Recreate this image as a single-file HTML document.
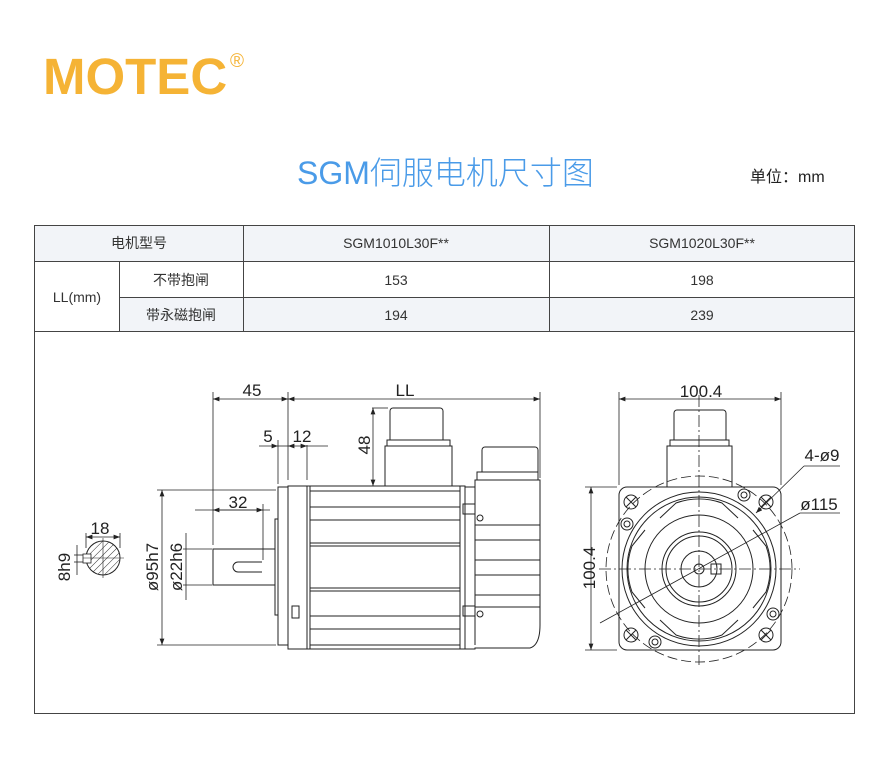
<!DOCTYPE html>
<html><head><meta charset="utf-8"><style>
html,body{margin:0;padding:0;background:#fff;width:890px;height:773px;overflow:hidden;position:relative;font-family:"Liberation Sans","Noto Sans CJK SC",sans-serif}
.abs{position:absolute;white-space:nowrap}
</style></head><body>
<div class="abs" style="left:43px;top:47px;font-size:51px;font-weight:bold;color:#f5b335;letter-spacing:0px">MOTEC</div>
<div class="abs" style="left:230px;top:51px;font-size:19px;color:#f5b335">®</div>
<div class="abs" style="left:297px;top:148px;font-size:32px;color:#4a9be8;font-weight:300">SGM伺服电机尺寸图</div>
<div class="abs" style="left:750px;top:163px;font-size:16px;color:#222">单位：mm</div>

<svg class="abs" style="left:0;top:0" width="890" height="773" viewBox="0 0 890 773" font-family="Liberation Sans, Noto Sans CJK SC, sans-serif">
<defs><marker id="a" markerWidth="8" markerHeight="6" refX="8" refY="3" orient="auto-start-reverse"><path d="M0,0 L8,3 L0,6z" fill="#222"/></marker>
<pattern id="h" width="5" height="5" patternUnits="userSpaceOnUse" patternTransform="rotate(45)"><line x1="0" y1="0" x2="0" y2="5" stroke="#333" stroke-width="1"/></pattern></defs>
<rect x="34" y="225" width="821" height="36" fill="#f2f4f8"/>
<rect x="119" y="297" width="736" height="34" fill="#f2f4f8"/>
<g stroke="#444" stroke-width="1" fill="none">
<rect x="34.5" y="225.5" width="820" height="488"/>
<line x1="34" y1="261.5" x2="855" y2="261.5"/>
<line x1="119" y1="297.5" x2="855" y2="297.5"/>
<line x1="34" y1="331.5" x2="855" y2="331.5"/>
<line x1="119.5" y1="261" x2="119.5" y2="331"/>
<line x1="243.5" y1="225" x2="243.5" y2="331"/>
<line x1="549.5" y1="225" x2="549.5" y2="331"/>
</g>
<g font-size="14" fill="#333" text-anchor="middle">
<text x="139" y="248">电机型号</text>
<text x="396" y="248">SGM1010L30F**</text>
<text x="702" y="248">SGM1020L30F**</text>
<text x="77" y="302">LL(mm)</text>
<text x="181" y="285">不带抱闸</text>
<text x="181" y="320">带永磁抱闸</text>
<text x="396" y="285">153</text><text x="702" y="285">198</text>
<text x="396" y="320">194</text><text x="702" y="320">239</text>
</g>

<g stroke="#222" stroke-width="1" fill="none">
<rect x="288" y="486" width="177" height="163"/>
<line x1="307" y1="486" x2="307" y2="649"/><line x1="310" y1="486" x2="310" y2="649"/>
<line x1="460" y1="486" x2="460" y2="649"/>
<line x1="310" y1="491" x2="460" y2="491"/><line x1="310" y1="507" x2="460" y2="507"/>
<line x1="310" y1="520" x2="460" y2="520"/><line x1="310" y1="543" x2="460" y2="543"/>
<line x1="310" y1="546" x2="460" y2="546"/>
<line x1="310" y1="588" x2="460" y2="588"/><line x1="310" y1="591" x2="460" y2="591"/>
<line x1="310" y1="616" x2="460" y2="616"/><line x1="310" y1="629" x2="460" y2="629"/>
<line x1="310" y1="645" x2="460" y2="645"/>
<rect x="278" y="487" width="10" height="158"/>
<rect x="275" y="519" width="3" height="96"/>
<path d="M275,549 H213 V585 H275"/>
<path d="M262,562 H238 a5,5 0 0 0 0,10 H262"/>
<rect x="292" y="606" width="7" height="12"/>
<path d="M385,486 V446 H452 V486"/>
<path d="M387,446 V440 H450 V446"/>
<path d="M390,440 V411 a3,3 0 0 1 3,-3 H440 a3,3 0 0 1 3,3 V440"/>
<path d="M465,487 H475 V480 H540 V625 Q540,645 530,648 H475 V649 H465"/>
<path d="M477,480 V472 H538 V480"/>
<path d="M482,472 V450 a3,3 0 0 1 3,-3 H535 a3,3 0 0 1 3,3 V472"/>
<line x1="475" y1="487" x2="475" y2="645"/>
<line x1="475" y1="525" x2="540" y2="525"/><line x1="475" y1="540" x2="540" y2="540"/>
<line x1="475" y1="560" x2="540" y2="560"/><line x1="475" y1="575" x2="540" y2="575"/>
<line x1="475" y1="595" x2="540" y2="595"/><line x1="475" y1="607" x2="540" y2="607"/>
<rect x="463" y="504" width="12" height="10"/><rect x="463" y="606" width="12" height="10"/>
<circle cx="480" cy="518" r="3"/><circle cx="480" cy="614" r="3"/>
</g>
<g stroke="#222" stroke-width="0.8" fill="none">
<line x1="213" y1="392" x2="213" y2="545"/>
<line x1="288" y1="392" x2="288" y2="480"/>
<line x1="540" y1="392" x2="540" y2="478"/>
<line x1="213" y1="399" x2="288" y2="399" marker-start="url(#a)" marker-end="url(#a)"/>
<line x1="288" y1="399" x2="540" y2="399" marker-start="url(#a)" marker-end="url(#a)"/>
<line x1="278" y1="440" x2="278" y2="484"/><line x1="307" y1="445" x2="307" y2="480"/>
<line x1="259" y1="446" x2="278" y2="446" marker-end="url(#a)"/>
<line x1="288" y1="446" x2="278" y2="446"/>
<line x1="307" y1="446" x2="328" y2="446"/>
<line x1="288" y1="446" x2="307" y2="446" marker-start="url(#a)" marker-end="url(#a)"/>
<line x1="372" y1="408" x2="388" y2="408"/>
<line x1="373" y1="408" x2="373" y2="486" marker-start="url(#a)" marker-end="url(#a)"/>
<line x1="195" y1="510" x2="270" y2="510"/>
<line x1="263" y1="504" x2="263" y2="560"/>
<line x1="213" y1="510" x2="263" y2="510" marker-start="url(#a)" marker-end="url(#a)"/>
<line x1="157" y1="490" x2="276" y2="490"/><line x1="157" y1="645" x2="276" y2="645"/>
<line x1="162" y1="490" x2="162" y2="645" marker-start="url(#a)" marker-end="url(#a)"/>
<line x1="183" y1="549" x2="212" y2="549"/><line x1="183" y1="585" x2="212" y2="585"/>
<line x1="186" y1="533" x2="186" y2="600"/>
<line x1="86" y1="548" x2="86" y2="533"/><line x1="120" y1="548" x2="120" y2="533"/>
<line x1="86" y1="537" x2="120" y2="537" marker-start="url(#a)" marker-end="url(#a)"/>
<line x1="74" y1="555" x2="90" y2="555"/><line x1="74" y1="562" x2="90" y2="562"/>
<line x1="77" y1="545" x2="77" y2="575"/>
</g>
<circle cx="103" cy="558" r="17" fill="url(#h)" stroke="#222"/>
<rect x="83" y="554" width="8" height="9" fill="#fff" stroke="#222" stroke-width="0.8"/>
<line x1="103" y1="538" x2="103" y2="578" stroke="#222" stroke-width="0.6"/>
<line x1="83" y1="558" x2="124" y2="558" stroke="#222" stroke-width="0.6"/>
<g font-size="17" fill="#222" text-anchor="middle">
<text x="252" y="396">45</text><text x="405" y="396">LL</text>
<text x="268" y="442">5</text><text x="302" y="442">12</text>
<text x="238" y="508">32</text>
<text x="100" y="534">18</text>
<text transform="translate(370,445) rotate(-90)">48</text>
<text transform="translate(158,567) rotate(-90)">ø95h7</text>
<text transform="translate(182,567) rotate(-90)">ø22h6</text>
<text transform="translate(70,567) rotate(-90)">8h9</text>
<text x="701" y="397">100.4</text>
<text transform="translate(595,568) rotate(-90)">100.4</text>
<text x="822" y="461">4-ø9</text>
<text x="819" y="510">ø115</text>
</g>
<g stroke="#222" stroke-width="1" fill="none">
<rect x="619" y="487" width="162" height="163" rx="8"/>
<path d="M667,487 V446 H732 V487"/><path d="M670,446 V440 H729 V446"/>
<path d="M674,440 V413 a3,3 0 0 1 3,-3 H723 a3,3 0 0 1 3,3 V440"/>
<circle cx="699" cy="569" r="77"/>
<circle cx="699" cy="569" r="72"/>
<circle cx="699" cy="569" r="54"/>
<circle cx="699" cy="569" r="37"/><circle cx="699" cy="569" r="33"/>
<circle cx="699" cy="569" r="18"/><circle cx="699" cy="569" r="5"/>
<rect x="711" y="564" width="10" height="10"/>
<circle cx="631" cy="502" r="7"/><circle cx="766" cy="502" r="7"/>
<circle cx="631" cy="635" r="7"/><circle cx="766" cy="635" r="7"/>
<path d="M626,497 l10,10 M636,497 l-10,10 M761,497 l10,10 M771,497 l-10,10 M626,630 l10,10 M636,630 l-10,10 M761,630 l10,10 M771,630 l-10,10"/>
<circle cx="744" cy="495" r="6"/><circle cx="744" cy="495" r="3"/>
<circle cx="627" cy="524" r="6"/><circle cx="627" cy="524" r="3"/>
<circle cx="773" cy="614" r="6"/><circle cx="773" cy="614" r="3"/>
<circle cx="655" cy="642" r="6"/><circle cx="655" cy="642" r="3"/>
<path d="M660,518 L676,503 A68,68 0 0 1 722,503 L738,518" />
<path d="M660,620 L676,635 A68,68 0 0 0 722,635 L738,620"/>
<path d="M645,530 L632,546 A68,68 0 0 0 632,592 L645,608"/>
<path d="M753,530 L766,546 A68,68 0 0 1 766,592 L753,608"/>
</g>
<g stroke="#222" stroke-width="0.8" fill="none">
<circle cx="699" cy="569" r="93" stroke-dasharray="10,4"/>
<line x1="599" y1="569" x2="800" y2="569" stroke-dasharray="12,3,2,3"/>
<line x1="699" y1="395" x2="699" y2="665" stroke-dasharray="12,3,2,3"/>
<line x1="619" y1="392" x2="619" y2="485"/><line x1="781" y1="392" x2="781" y2="485"/>
<line x1="619" y1="399" x2="781" y2="399" marker-start="url(#a)" marker-end="url(#a)"/>
<line x1="585" y1="487" x2="617" y2="487"/><line x1="585" y1="650" x2="617" y2="650"/>
<line x1="591" y1="487" x2="591" y2="650" marker-start="url(#a)" marker-end="url(#a)"/>
<line x1="840" y1="466" x2="804" y2="466"/>
<line x1="804" y1="466" x2="756" y2="513" marker-end="url(#a)"/>
<line x1="840" y1="513" x2="800" y2="513"/>
<line x1="800" y1="513" x2="600" y2="623"/>
</g>
</svg>
</body></html>
